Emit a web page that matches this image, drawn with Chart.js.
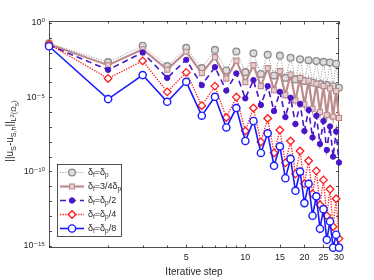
<!DOCTYPE html>
<html><head><meta charset="utf-8">
<script src="https://cdn.jsdelivr.net/npm/chart.js@4/dist/chart.umd.min.js"></script>
<style>html,body{margin:0;padding:0;background:#fff}</style>
</head><body>
<canvas id="c" width="374" height="280"></canvas>
<script>
// ---- data ----
const steps = [1,2,3,4,5,6,7,8,9,10,11,12,13,14,15,16,17,18,19,20,21,22,23,24,25,26,27,28,29,30];
const errFull = [4.3e-2,2.3e-3,2.9e-2,1.24e-3,2.1e-2,9.1e-4,1.54e-2,6.2e-4,1.2e-2,4.9e-4,9.2e-3,3.6e-4,7.3e-3,2.85e-4,6.3e-3,2.0e-4,4.6e-3,1.58e-4,3.65e-3,1.22e-4,3.1e-3,9.9e-5,2.7e-3,7.6e-5,2.4e-3,6.5e-5,2.2e-3,5.4e-5,1.8e-3,4.3e-5];
const errThreeQuarter = [3.7e-2,1.44e-3,1.7e-2,7.2e-4,1.16e-2,4.2e-4,5.0e-3,1.8e-4,2.9e-3,1.04e-4,1.44e-3,5.6e-5,9.1e-4,3.0e-5,5.7e-4,1.4e-5,3.4e-4,6.1e-6,2.0e-4,3.3e-6,1.27e-4,1.7e-6,8.0e-5,1.0e-6,5.6e-5,6.3e-7,3.9e-5,5.0e-7,2.6e-5,4.0e-7];
const errHalf = [3.2e-2,7.0e-4,1.03e-2,2.0e-4,3.3e-3,6.5e-5,1.06e-3,2.8e-5,4.0e-4,8.4e-6,1.42e-4,3.0e-6,5.6e-5,1.17e-6,2.3e-5,4.6e-7,9.2e-6,1.57e-7,3.5e-6,5.3e-8,1.37e-6,1.95e-8,5.7e-7,7.1e-9,2.5e-7,2.8e-9,1.07e-7,1.0e-9,4.9e-8,4.0e-10];
const errQuarter = [3.7e-2,1.85e-4,2.8e-3,2.3e-5,4.7e-4,2.7e-6,5.6e-5,4.3e-7,1.02e-5,5.3e-8,1.87e-6,9.7e-9,3.7e-7,1.77e-9,6.2e-8,3.8e-10,1.13e-8,6.9e-11,2.4e-9,1.47e-11,5.2e-10,3.1e-12,1.1e-10,5.7e-13,2.7e-11,1.04e-13,6.3e-12,1.9e-14,1.45e-12,3.0e-15];
const errEighth = [2.7e-2,7.5e-6,3.1e-4,4.9e-6,1.09e-4,5.7e-7,1.07e-5,9.2e-8,1.87e-6,1.13e-8,2.5e-7,1.77e-9,3.7e-8,2.4e-10,4.9e-9,3.5e-11,7.0e-10,5.0e-12,9.8e-11,7.4e-13,1.47e-11,1.04e-13,2.1e-12,1.4e-14,2.9e-13,2.5e-15,4.3e-14,7.4e-16,5.5e-15,7.4e-16];
const seriesLabels = ['δ_f=δ_p','δ_f=3/4δ_p','δ_f=δ_p/2','δ_f=δ_p/4','δ_f=δ_p/8'];
const xTickValues = [1,2,3,4,5,6,7,8,9,10,15,20,25,30];
const xTickLabels = ['','','','','5','','','','','10','15','20','25','30'];
const yTickValues = [1,1e-1,1e-2,1e-3,1e-4,1e-5,1e-6,1e-7,1e-8,1e-9,1e-10,1e-11,1e-12,1e-13,1e-14,1e-15];
const yTickLabels = ['10⁰','','','','','10⁻⁵','','','','','10⁻¹⁰','','','','','10⁻¹⁵'];
const xTitle = 'Iterative step';

const FONT = '"Liberation Sans", Arial, "DejaVu Sans", sans-serif';
const AX = '#262626';

function pts(arr){ return steps.map((s,i)=>({x:s,y:arr[i]})); }

const styles = [
  {c:'#8c8c8c', bg:'#dcdcdc', w:1, dash:[1,1.6], ps:'circle', r:3.4, pbw:1.3},
  {c:'rgb(188,140,140)', bg:'rgb(228,205,205)', w:2.2, dash:[], ps:'rect', r:3.6, pbw:1.1},
  {c:'rgb(72,22,200)', bg:'rgb(72,22,200)', w:1.6, dash:[6,4], ps:'circle', r:2.7, pbw:1},
  {c:'#ff1a1a', bg:'#ffffff', w:1.3, dash:[1.3,1.3], ps:'rectRot', r:3.8, pbw:1.3},
  {c:'#1a1aff', bg:'#ffffff', w:1.6, dash:[], ps:'circle', r:3.6, pbw:1.4}
];
const seriesData = [errFull, errThreeQuarter, errHalf, errQuarter, errEighth];

const datasets = seriesData.map((d,i)=>({
  label: seriesLabels[i], data: pts(d),
  borderColor: styles[i].c, backgroundColor: styles[i].bg,
  borderWidth: styles[i].w, borderDash: styles[i].dash,
  pointStyle: styles[i].ps, pointRadius: styles[i].r, pointBorderWidth: styles[i].pbw,
  pointBorderColor: styles[i].c, pointBackgroundColor: styles[i].bg,
  fill:false, tension:0, clip:false, order: 4-i
}));

function parseRich(s){
  const parts=[]; let buf='';
  for(let i=0;i<s.length;i++){
    if(s[i]==='_'){ if(buf){parts.push([buf,'n']);buf='';} parts.push([s[i+1],'sub']); i++; }
    else buf+=s[i];
  }
  if(buf) parts.push([buf,'n']);
  return parts;
}
const SZ = {n:1, sub:0.72, subsup:0.55, subsub:0.55};
const OFF = {n:0, sub:0.3, subsup:0.05, subsub:0.55};
function drawRich(ctx, parts, x, y, base){
  let cx=x;
  for(const [t,k] of parts){
    ctx.font = (base*SZ[k]).toFixed(2)+'px '+FONT;
    ctx.fillText(t, cx, y+base*OFF[k]);
    cx += ctx.measureText(t).width;
  }
  return cx-x;
}
function richWidth(ctx, parts, base){
  let w=0;
  for(const [t,k] of parts){ ctx.font=(base*SZ[k]).toFixed(2)+'px '+FONT; w+=ctx.measureText(t).width; }
  return w;
}

const framePlugin = {
  id:'frame',
  beforeDatasetsDraw(chart){
    const {ctx, chartArea:a, scales:{x,y}} = chart;
    ctx.save();
    ctx.strokeStyle = AX; ctx.lineWidth = 0.8;
    ctx.strokeRect(a.left+0.5, a.top+0.5, a.right-a.left-1, a.bottom-a.top-1);
    ctx.beginPath();
    xTickValues.forEach((v,i)=>{
      const px = Math.round(x.getPixelForValue(v))+0.5;
      const L = xTickLabels[i] ? 3.5 : 2.5;
      ctx.moveTo(px,a.bottom); ctx.lineTo(px,a.bottom-L);
      ctx.moveTo(px,a.top); ctx.lineTo(px,a.top+L);
    });
    yTickValues.forEach((v,i)=>{
      const py = Math.round(y.getPixelForValue(v))+0.5;
      const L = 3;
      ctx.moveTo(a.left,py); ctx.lineTo(a.left+L,py);
      ctx.moveTo(a.right,py); ctx.lineTo(a.right-L,py);
    });
    ctx.stroke();
    ctx.restore();
  },
  afterDraw(chart){
    const ctx = chart.ctx;
    ctx.save();
    ctx.fillStyle = AX; ctx.textBaseline='alphabetic';
    const yt = [['||u','n'],['S','sub'],['-u','n'],['S,h','sub'],['||','n'],['L','sub'],['2','subsup'],['(Ω','sub'],['S','subsub'],[')','sub']];
    const base = 10;
    const w = richWidth(ctx, yt, base);
    ctx.translate(13, 131);
    ctx.rotate(-Math.PI/2);
    drawRich(ctx, yt, -w/2, 0, base);
    ctx.restore();
    ctx.save();
    const bx=57.5, by=164.5, bw=64, bh=72;
    ctx.fillStyle='#fff'; ctx.fillRect(bx,by,bw,bh);
    ctx.strokeStyle=AX; ctx.lineWidth=0.8; ctx.strokeRect(bx,by,bw,bh);
    chart.data.datasets.forEach((ds,i)=>{
      const ry = 172.5 + i*14;
      ctx.save();
      ctx.strokeStyle = ds.borderColor; ctx.lineWidth = ds.borderWidth;
      ctx.setLineDash(ds.borderDash);
      ctx.beginPath(); ctx.moveTo(60,ry); ctx.lineTo(84,ry); ctx.stroke();
      ctx.setLineDash([]);
      ctx.fillStyle = ds.pointBackgroundColor; ctx.strokeStyle = ds.pointBorderColor; ctx.lineWidth = ds.pointBorderWidth;
      Chart.helpers.drawPoint(ctx, {pointStyle: ds.pointStyle, radius: ds.pointRadius, borderWidth: ds.pointBorderWidth, rotation:0}, 72, ry);
      ctx.restore();
      ctx.fillStyle = AX; ctx.textBaseline='middle';
      drawRich(ctx, parseRich(ds.label), 88, ry, 9);
    });
    ctx.restore();
  }
};

new Chart(document.getElementById('c'), {
  type:'line',
  data:{ datasets },
  options:{
    responsive:false, animation:false, devicePixelRatio:1,
    layout:{ padding:{ left:0, right:35, top:21, bottom:0 } },
    plugins:{ legend:{display:false}, tooltip:{enabled:false} },
    scales:{
      x:{
        type:'logarithmic', min:1, max:30,
        afterBuildTicks(s){ s.ticks = xTickValues.map(v=>({value:v})); },
        afterFit(s){ s.height = 32; },
        ticks:{ autoSkip:false, maxRotation:0, padding:4, color:AX, font:{family:FONT,size:9},
          callback(v){ const i = xTickValues.indexOf(v); return i>=0 ? xTickLabels[i] : ''; } },
        grid:{ display:false, drawTicks:false },
        border:{ display:false },
        title:{ display:true, text:xTitle, color:AX, font:{family:FONT,size:10}, padding:{top:0,bottom:2} }
      },
      y:{
        type:'logarithmic', min:7e-16, max:1.36,
        afterBuildTicks(s){ s.ticks = yTickValues.map(v=>({value:v})); },
        afterFit(s){ s.width = 49; },
        ticks:{ autoSkip:false, padding:4, color:AX, font:{family:FONT,size:9},
          callback(v){ const i = yTickValues.findIndex(t=>Math.abs(Math.log10(t)-Math.log10(v))<1e-6); return i>=0 ? yTickLabels[i] : ''; } },
        grid:{ display:false, drawTicks:false },
        border:{ display:false }
      }
    }
  },
  plugins:[framePlugin]
});
</script>
</body></html>
